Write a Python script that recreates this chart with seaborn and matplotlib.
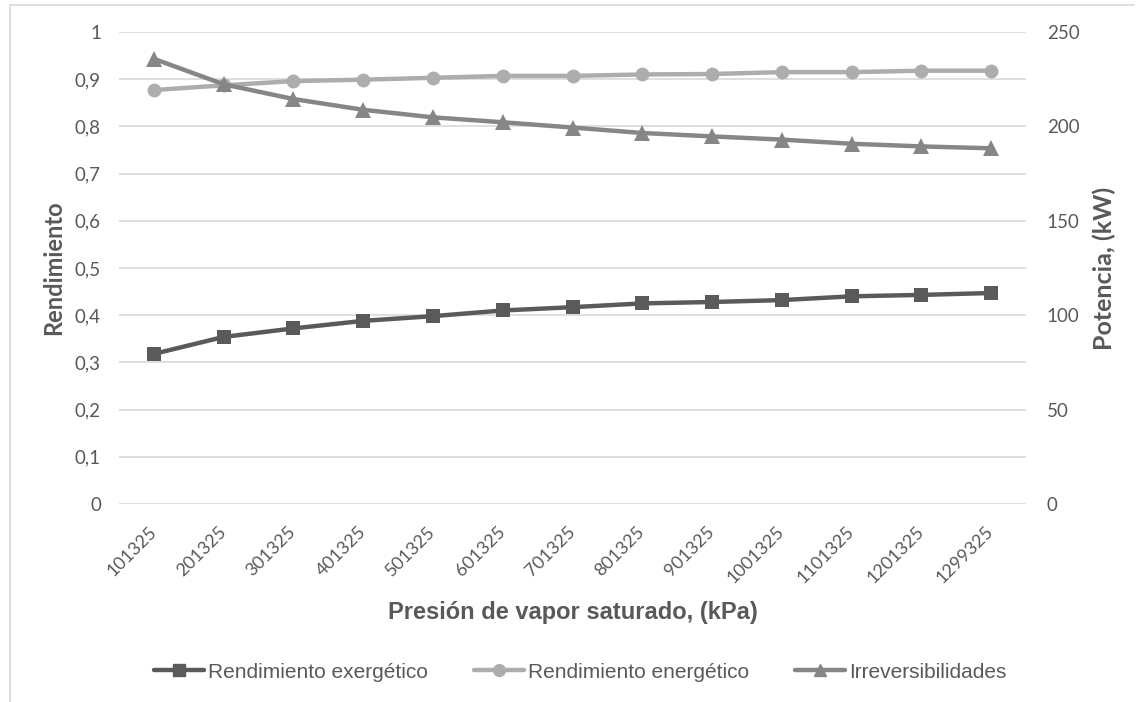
import matplotlib
matplotlib.use("Agg")
import matplotlib.pyplot as plt
import matplotlib.lines as mlines
import seaborn as sns
import pandas as pd

# Presion de vapor saturado (categorias del eje x)
presion = ["101325", "201325", "301325", "401325", "501325", "601325", "701325",
           "801325", "901325", "1001325", "1101325", "1201325", "1299325"]

# Eje izquierdo: rendimientos
rend_exergetico = [0.318, 0.354, 0.372, 0.388, 0.398, 0.41, 0.417,
                   0.425, 0.428, 0.432, 0.44, 0.443, 0.447]
rend_energetico = [0.877, 0.887, 0.896, 0.899, 0.903, 0.907, 0.907,
                   0.91, 0.911, 0.915, 0.915, 0.918, 0.918]

# Eje derecho: irreversibilidades (kW)
irreversibilidades = [235.8, 222.3, 214.5, 208.8, 204.8, 202.2, 199.4,
                      196.5, 194.7, 193.0, 190.8, 189.4, 188.4]

df = pd.DataFrame({
    "presion": presion,
    "exergetico": rend_exergetico,
    "energetico": rend_energetico,
    "irrev": irreversibilidades,
})

c_exe = "#5a5a5a"
c_ene = "#adadad"
c_irr = "#868686"
txt = "#595959"

sns.set_style("white")
plt.rcParams["font.family"] = ["Lato", "DejaVu Sans"]

W, H = 1136, 702
left, right, top, bottom = 119, 1026, 32, 504
fig = plt.figure(figsize=(W / 100, H / 100), dpi=100)
ax = fig.add_axes([left / W, 1 - bottom / H, (right - left) / W, (bottom - top) / H])
ax2 = ax.twinx()

sns.lineplot(data=df, x="presion", y="exergetico", ax=ax, color=c_exe,
             marker="s", markersize=10, linewidth=3.2, markeredgewidth=0)
sns.lineplot(data=df, x="presion", y="energetico", ax=ax, color=c_ene,
             marker="o", markersize=10, linewidth=3.2, markeredgewidth=0)
sns.lineplot(data=df, x="presion", y="irrev", ax=ax2, color=c_irr,
             marker="^", markersize=11, linewidth=3.2, markeredgewidth=0)

ax.set_xlim(-0.5, len(presion) - 0.5)
ax.set_ylim(0, 1)
ax2.set_ylim(0, 250)
ax.set_yticks([i / 10 for i in range(11)])
ax.set_yticklabels(["0"] + ["0,%d" % i for i in range(1, 10)] + ["1"])
ax2.set_yticks(range(0, 251, 50))

ax.grid(axis="y", color="#d9d9d9", linewidth=1.2)
ax.set_axisbelow(True)
for a in (ax, ax2):
    for s in a.spines.values():
        s.set_visible(False)
    a.tick_params(length=0, colors=txt, labelsize=13.5)

ax.tick_params(axis="y", pad=13)
ax2.tick_params(axis="y", pad=15)
ax.tick_params(axis="x", pad=18, labelsize=13)
plt.setp(ax.get_xticklabels(), rotation=45, ha="right", va="center",
         rotation_mode="anchor")

sans = ["Liberation Sans", "DejaVu Sans"]
axh = (bottom - top) / H
axw = (right - left) / W
ax.set_xlabel("Presión de vapor saturado, (kPa)", fontsize=17, fontweight="bold",
              color=txt, family=sans, va="center")
ax.xaxis.set_label_coords(0.5, -(612 - bottom) / H / axh)
ax.set_ylabel("Rendimiento", fontsize=17, fontweight="bold", color=txt,
              ha="center", va="center")
ax.yaxis.set_label_coords(-(left - 54) / W / axw, 0.5)
ax2.set_ylabel("Potencia, (kW)", fontsize=18, fontweight="bold", color=txt,
               ha="center", va="center")
ax2.yaxis.set_label_coords(1 + (1104 - right) / W / axw, 0.5)

handles = [
    mlines.Line2D([], [], color=c_exe, marker="s", markersize=8.5, linewidth=3.2),
    mlines.Line2D([], [], color=c_ene, marker="o", markersize=8.5, linewidth=3.2),
    mlines.Line2D([], [], color=c_irr, marker="^", markersize=8.5, linewidth=3.2),
]
labels = ["Rendimiento exergético", "Rendimiento energético", "Irreversibilidades"]
fig.legend(handles, labels, loc="center", bbox_to_anchor=(580 / W, 1 - 672 / H),
           ncol=3, frameon=False, handlelength=2.4, handletextpad=0.2,
           columnspacing=2.2, prop={"family": sans, "size": 15},
           labelcolor=txt)

# marco exterior del grafico
fig.add_artist(mlines.Line2D([10 / W, 10 / W], [0, 1 - 5 / H],
                             color="#d9d9d9", linewidth=1.2))
fig.add_artist(mlines.Line2D([10 / W, 1134 / W], [1 - 5 / H, 1 - 5 / H],
                             color="#d9d9d9", linewidth=1.2))

fig.savefig("out.png", dpi=100, facecolor="white")
